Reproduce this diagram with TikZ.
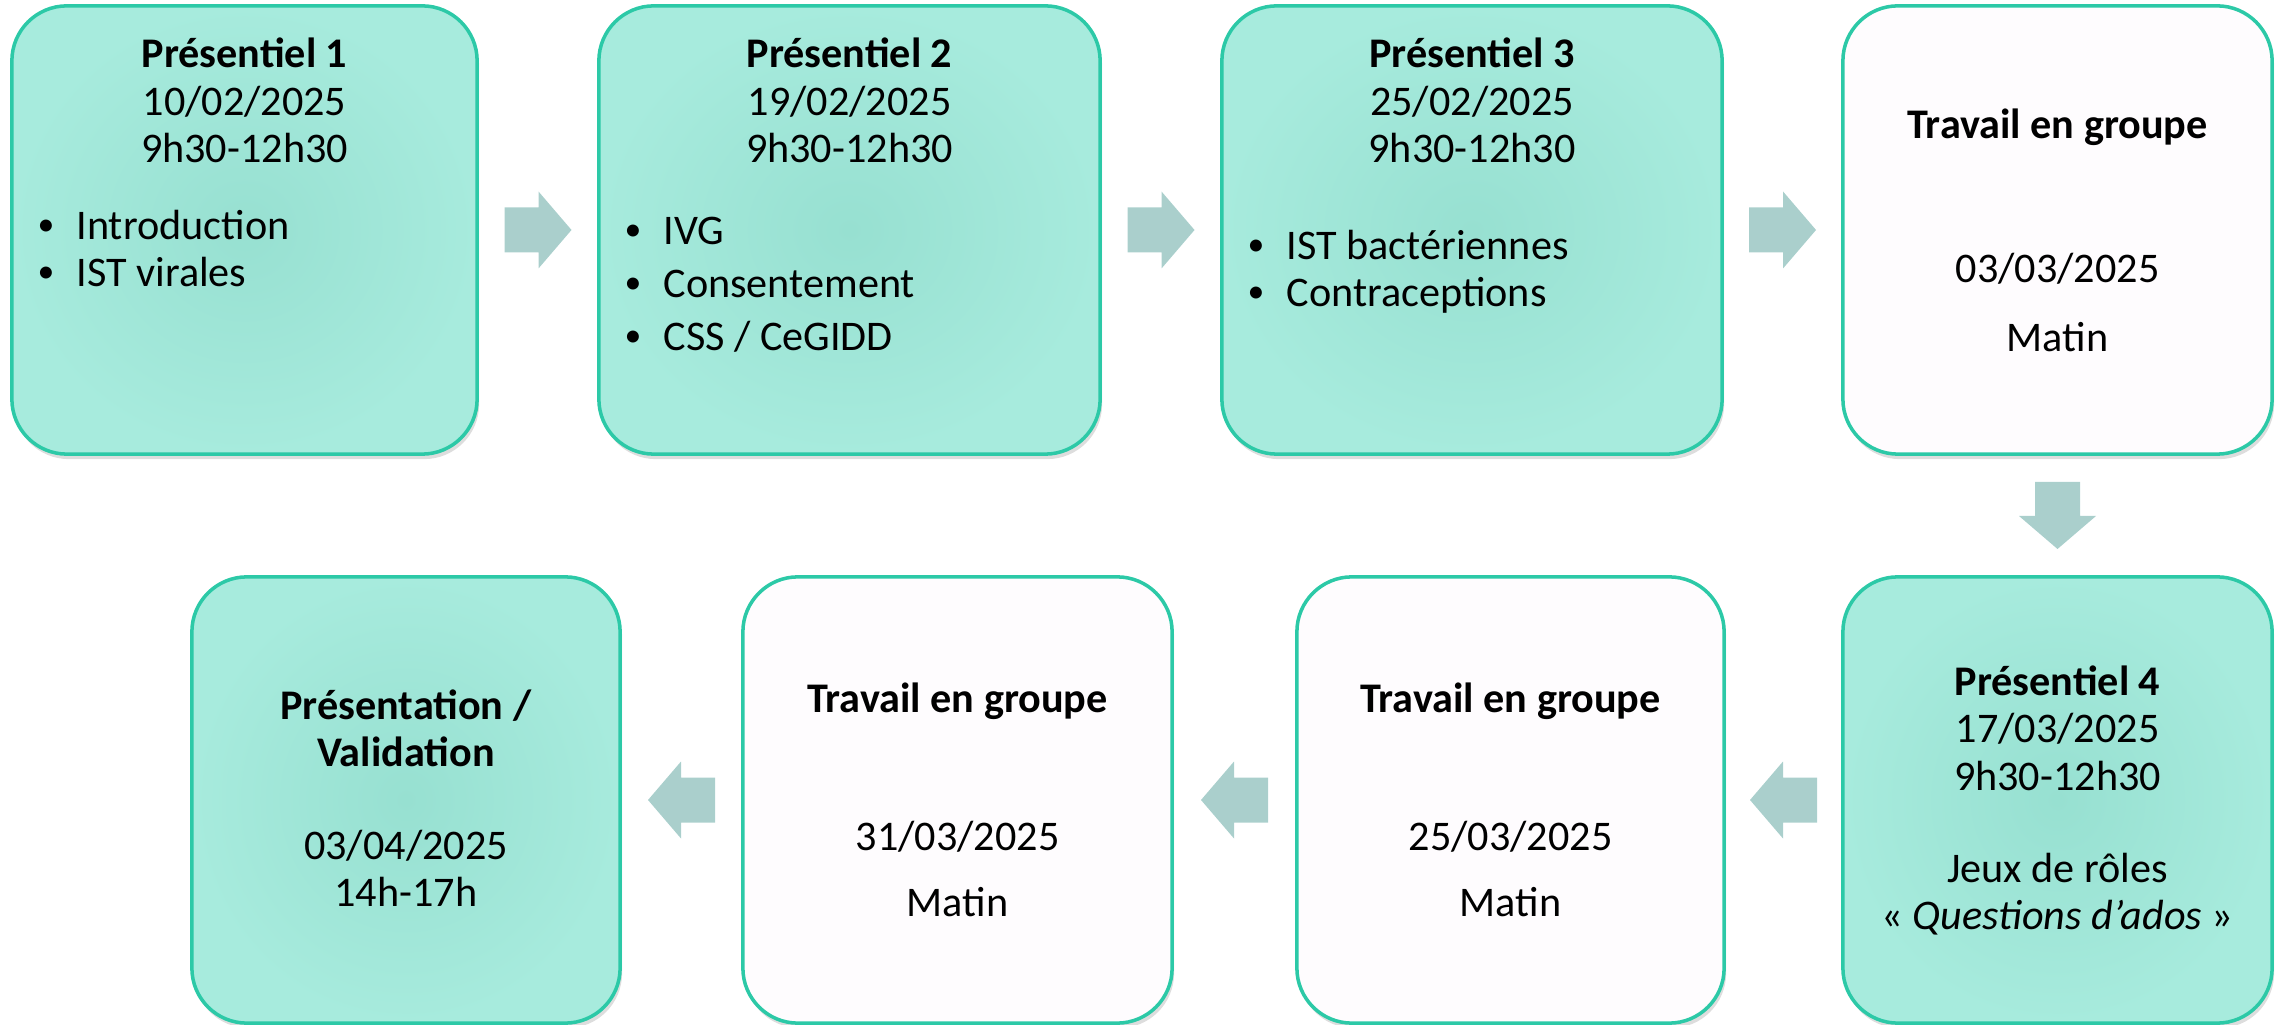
\documentclass[tikz,border=0pt]{standalone}
\usepackage{fontspec}
\setmainfont{Carlito}
\usetikzlibrary{calc}
\usetikzlibrary{shadows}

\definecolor{tealfill}{HTML}{A7EBDD}
\definecolor{tealmid}{HTML}{97E0D1}
\definecolor{tealline}{HTML}{2CC9A7}
\definecolor{paper}{HTML}{FEFCFE}
\definecolor{arrowgrey}{HTML}{AACFCC}

\tikzstyle{etape} = [draw=tealline, line width=1pt, rounded corners=0.55cm,
    inner sep=0pt, outer sep=0pt, minimum height=4.48cm,
    drop shadow={shadow xshift=0.02cm, shadow yshift=-0.05cm, opacity=0.22, fill=black!60}]
\tikzstyle{presentiel} = [etape, shading=radial, inner color=tealmid, outer color=tealfill]
\tikzstyle{travail} = [etape, fill=paper]
\tikzstyle{texte} = [align=center, inner sep=0pt, anchor=base,
    font=\fontsize{12}{13.5}\selectfont]
\tikzstyle{liste} = [align=left, inner sep=0pt, anchor=base west,
    font=\fontsize{12}{13.5}\selectfont]
\tikzset{fleche/.pic={
    \fill[arrowgrey] (-33.5,-22.5) -- (0.5,-22.5) -- (0.5,-38.5) -- (33.5,0)
        -- (0.5,38.5) -- (0.5,22.5) -- (-33.5,22.5) -- cycle;}}
\newcommand{\puce}{\makebox[0.37cm][l]{\kern-0.02cm\raisebox{0.2ex}{\scalebox{0.8}{\textbullet}}}}

\begin{document}
\begin{tikzpicture}[x=0.01cm, y=-0.01cm]
\useasboundingbox (0,0) rectangle (2282,1025);
    %first row
    \node[presentiel, minimum width=4.65cm] (p1) at (244.5,230) {};
    \node[presentiel, minimum width=5.01cm] (p2) at (849.5,230) {};
    \node[presentiel, minimum width=5.00cm] (p3) at (1472,230) {};
    \node[travail, minimum width=4.29cm] (g1) at (2057.5,230) {};
    %second row
    \node[presentiel, minimum width=4.29cm, minimum height=4.46cm] (p4) at (2057.5,800) {};
    \node[travail, minimum width=4.27cm, minimum height=4.46cm] (g2) at (1510.5,800) {};
    \node[travail, minimum width=4.29cm, minimum height=4.46cm] (g3) at (957.5,800) {};
    \node[presentiel, minimum width=4.28cm, minimum height=4.46cm] (val) at (406,800) {};
    %texts (anchored on the baseline of their last line)
    \node[texte] (t1) at ($(p1.north)+(0,157)$) {\textbf{Présentiel 1}\\10/02/2025\\9h30-12h30};
    \node[liste] (l1) at ($(p1.north west)+(27,281)$) {\puce Introduction\\\puce IST virales};
    \node[texte] (t2) at ($(p2.north)+(0,157)$) {\textbf{Présentiel 2}\\19/02/2025\\9h30-12h30};
    \node[liste] (l2) at ($(p2.north west)+(27,345)$) {\puce IVG\\[1.6pt]\puce Consentement\\[1.6pt]\puce CSS / CeGIDD};
    \node[texte] (t3) at ($(p3.north)+(0,157)$) {\textbf{Présentiel 3}\\25/02/2025\\9h30-12h30};
    \node[liste] (l3) at ($(p3.north west)+(27,301)$) {\puce IST bactériennes\\\puce Contraceptions};
    \node[texte] (t4) at ($(g1.north)+(0,346)$) {\textbf{Travail en groupe}\\[27.7pt]03/03/2025\\[6.1pt]Matin};
    \node[texte] (t5) at ($(p4.north)+(0,353)$) {\textbf{Présentiel 4}\\17/03/2025\\9h30-12h30\\[12.7pt]Jeux de rôles\\« \textit{Questions d’ados} »};
    \node[texte] (t6) at ($(g2.north)+(0,340)$) {\textbf{Travail en groupe}\\[25.5pt]25/03/2025\\[5.5pt]Matin};
    \node[texte] (t7) at ($(g3.north)+(0,340)$) {\textbf{Travail en groupe}\\[25.5pt]31/03/2025\\[5.5pt]Matin};
    \node[texte] (t8) at ($(val.north)+(0,330)$) {\textbf{Présentation /}\\\textbf{Validation}\\[12.9pt]03/04/2025\\14h-17h};
    %arrows
    \pic at ($(p1.east)!0.5!(p2.west)$) {fleche};
    \pic at ($(p2.east)!0.5!(p3.west)$) {fleche};
    \pic at ($(p3.east)!0.5!(g1.west)$) {fleche};
    \pic[rotate=-90] at ($(g1.south)!0.5!(p4.north)$) {fleche};
    \pic[rotate=180] at ($(p4.west)!0.5!(g2.east)$) {fleche};
    \pic[rotate=180] at ($(g2.west)!0.5!(g3.east)$) {fleche};
    \pic[rotate=180] at ($(g3.west)!0.5!(val.east)$) {fleche};
\end{tikzpicture}
\end{document}
